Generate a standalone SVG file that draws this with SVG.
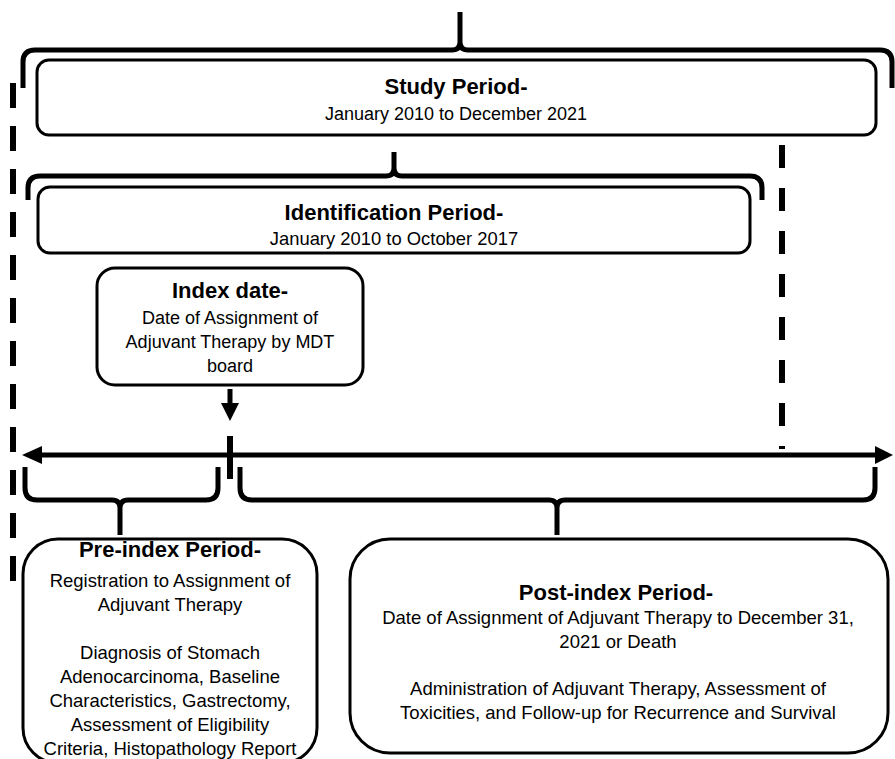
<svg xmlns="http://www.w3.org/2000/svg" width="895" height="759" viewBox="0 0 895 759">
<style>
.box{fill:#fff;stroke:#000;stroke-width:3}
.brace{fill:none;stroke:#000;stroke-width:5;stroke-linejoin:round}
.dash{fill:none;stroke:#000;stroke-width:6}
.line{fill:none;stroke:#000;stroke-width:5}
text{font-family:"Liberation Sans",Arial,sans-serif;fill:#000;text-anchor:middle}
.t{font-weight:bold;font-size:22px}
.b{font-size:18.5px}
.s{font-size:18px}
</style>
<rect width="895" height="759" fill="#fff"/>
<g id="connectors">
<path class="dash" d="M13,83 V581" stroke-dasharray="25 18"/>
<path class="dash" d="M782,145 V449" stroke-dasharray="23 20"/>
<path class="brace" d="M23,88 V62 Q23,50 35,50 H452 Q460,50 460,42 V12 M460,42 Q460,50 468,50 H880 Q892,50 892,62 V88"/>
<path class="brace" d="M28,200 V188 Q28,176 40,176 H386 Q394,176 394,168 V152 M394,168 Q394,176 402,176 H750 Q762,176 762,188 V200"/>
<path class="line" d="M230,389 V405"/>
<polygon points="221,403 239,403 230,421" fill="#000"/>
<path class="line" d="M40,455 H876"/>
<polygon points="22,455 42,446 42,464" fill="#000"/>
<polygon points="893,455 875,446 875,464" fill="#000"/>
<path d="M230,436 V479" stroke="#000" stroke-width="6"/>
<path class="brace" d="M25,467 V488 Q25,500 37,500 H112 Q120,500 120,508 V535 M120,508 Q120,500 128,500 H206 Q218,500 218,488 V467"/>
<path class="brace" d="M240,467 V488 Q240,500 252,500 H549 Q557,500 557,508 V535 M557,508 Q557,500 565,500 H863 Q875,500 875,488 V467"/>
</g>
<g id="study">
<rect class="box" x="37" y="60" width="839" height="75" rx="12"/>
<text class="t" x="456" y="94">Study Period-</text>
<text class="s" x="456" y="120">January 2010 to December 2021</text>
</g>
<g id="identification">
<rect class="box" x="38" y="187" width="712" height="66" rx="12"/>
<text class="t" x="394" y="220">Identification Period-</text>
<text class="s" x="394" y="245" style="font-size:18.4px">January 2010 to October 2017</text>
</g>
<g id="index">
<rect class="box" x="97" y="268" width="266" height="117" rx="18"/>
<text class="t" x="230" y="298">Index date-</text>
<text class="s" x="230" y="324">Date of Assignment of</text>
<text class="s" x="230" y="348">Adjuvant Therapy by MDT</text>
<text class="s" x="230" y="372">board</text>
</g>
<g id="preindex">
<rect class="box" x="23" y="539" width="294" height="224" rx="35"/>
<text class="t" x="170" y="557">Pre-index Period-</text>
<text class="b" x="170" y="587">Registration to Assignment of</text>
<text class="b" x="170" y="611">Adjuvant Therapy</text>
<text class="b" x="170" y="659">Diagnosis of Stomach</text>
<text class="b" x="170" y="683">Adenocarcinoma, Baseline</text>
<text class="b" x="170" y="707">Characteristics, Gastrectomy,</text>
<text class="b" x="170" y="731">Assessment of Eligibility</text>
<text class="b" x="170" y="755">Criteria, Histopathology Report</text>
</g>
<g id="postindex">
<rect class="box" x="350" y="539" width="538" height="214" rx="40"/>
<text class="t" x="616" y="600">Post-index Period-</text>
<text class="b" x="618" y="624">Date of Assignment of Adjuvant Therapy to December 31,</text>
<text class="b" x="618" y="648">2021 or Death</text>
<text class="b" x="618" y="695">Administration of Adjuvant Therapy, Assessment of</text>
<text class="b" x="618" y="719">Toxicities, and Follow-up for Recurrence and Survival</text>
</g>
</svg>
